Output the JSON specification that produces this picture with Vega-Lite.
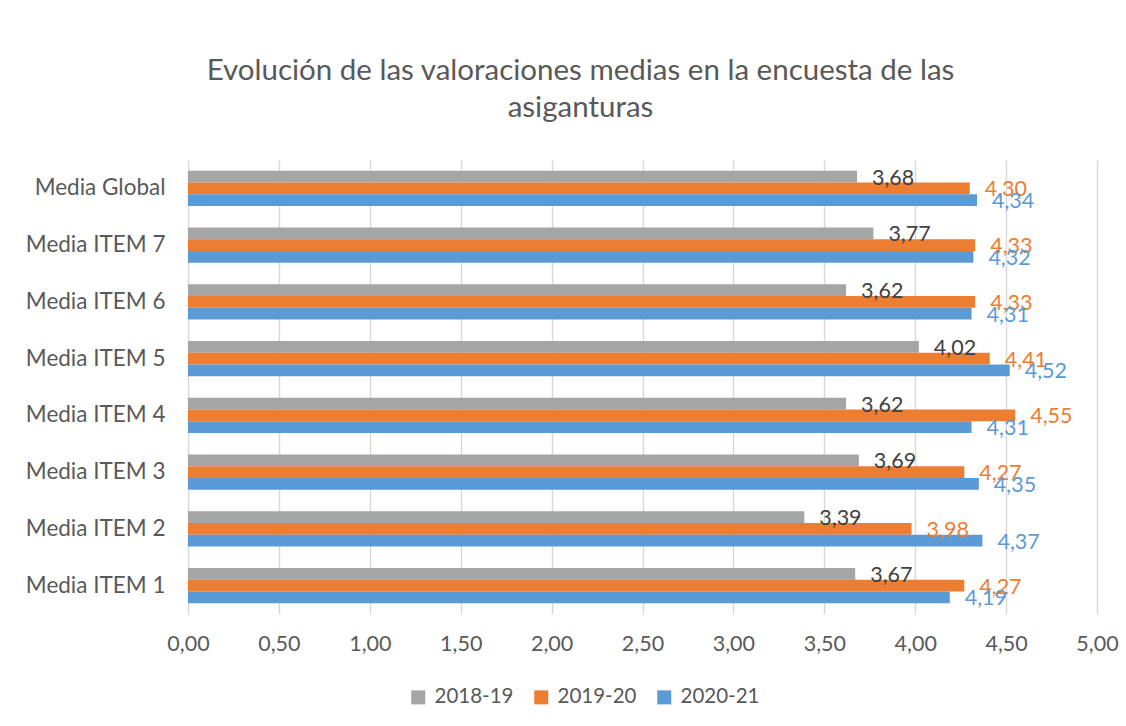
{
  "$schema": "https://vega.github.io/schema/vega-lite/v6.json",
  "width": 909,
  "height": 454,
  "padding": {"left": 18, "top": 55, "right": 10, "bottom": 10},
  "background": "white",
  "title": {
    "text": ["Evolución de las valoraciones medias en la encuesta de las", "asiganturas"],
    "fontSize": 29.5,
    "fontWeight": "normal",
    "color": "#595959",
    "lineHeight": 37,
    "anchor": "middle",
    "dx": -62,
    "offset": 37
  },
  "data": {
    "values": [
      {"item": "Media Global", "serie": "2018-19", "valor": 3.68},
      {"item": "Media Global", "serie": "2019-20", "valor": 4.30},
      {"item": "Media Global", "serie": "2020-21", "valor": 4.34},
      {"item": "Media ITEM 7", "serie": "2018-19", "valor": 3.77},
      {"item": "Media ITEM 7", "serie": "2019-20", "valor": 4.33},
      {"item": "Media ITEM 7", "serie": "2020-21", "valor": 4.32},
      {"item": "Media ITEM 6", "serie": "2018-19", "valor": 3.62},
      {"item": "Media ITEM 6", "serie": "2019-20", "valor": 4.33},
      {"item": "Media ITEM 6", "serie": "2020-21", "valor": 4.31},
      {"item": "Media ITEM 5", "serie": "2018-19", "valor": 4.02},
      {"item": "Media ITEM 5", "serie": "2019-20", "valor": 4.41},
      {"item": "Media ITEM 5", "serie": "2020-21", "valor": 4.52},
      {"item": "Media ITEM 4", "serie": "2018-19", "valor": 3.62},
      {"item": "Media ITEM 4", "serie": "2019-20", "valor": 4.55},
      {"item": "Media ITEM 4", "serie": "2020-21", "valor": 4.31},
      {"item": "Media ITEM 3", "serie": "2018-19", "valor": 3.69},
      {"item": "Media ITEM 3", "serie": "2019-20", "valor": 4.27},
      {"item": "Media ITEM 3", "serie": "2020-21", "valor": 4.35},
      {"item": "Media ITEM 2", "serie": "2018-19", "valor": 3.39},
      {"item": "Media ITEM 2", "serie": "2019-20", "valor": 3.98},
      {"item": "Media ITEM 2", "serie": "2020-21", "valor": 4.37},
      {"item": "Media ITEM 1", "serie": "2018-19", "valor": 3.67},
      {"item": "Media ITEM 1", "serie": "2019-20", "valor": 4.27},
      {"item": "Media ITEM 1", "serie": "2020-21", "valor": 4.19}
    ]
  },
  "encoding": {
    "y": {
      "field": "item",
      "type": "nominal",
      "sort": ["Media Global", "Media ITEM 7", "Media ITEM 6", "Media ITEM 5", "Media ITEM 4", "Media ITEM 3", "Media ITEM 2", "Media ITEM 1"],
      "scale": {"paddingInner": 0.38, "paddingOuter": 0.19},
      "axis": {
        "title": null,
        "domain": false,
        "ticks": false,
        "labelFontSize": 22.5,
        "labelColor": "#595959",
        "labelPadding": 23,
        "minExtent": 170,
        "maxExtent": 170
      }
    },
    "x": {
      "field": "valor",
      "type": "quantitative",
      "scale": {"domain": [0, 5], "nice": false},
      "axis": {
        "title": null,
        "values": [0, 0.5, 1, 1.5, 2, 2.5, 3, 3.5, 4, 4.5, 5],
        "format": ".2f",
        "domain": false,
        "ticks": false,
        "grid": true,
        "gridColor": "#D9D9D9",
        "gridWidth": 1.5,
        "labelFontSize": 21.5,
        "labelColor": "#595959",
        "labelPadding": 19,
        "labelFlush": false
      }
    },
    "yOffset": {
      "field": "serie",
      "type": "nominal",
      "sort": ["2018-19", "2019-20", "2020-21"],
      "scale": {"paddingInner": 0, "paddingOuter": 0}
    }
  },
  "layer": [
    {
      "mark": {"type": "bar"},
      "encoding": {
        "color": {
          "field": "serie",
          "type": "nominal",
          "sort": ["2018-19", "2019-20", "2020-21"],
          "scale": {"domain": ["2018-19", "2019-20", "2020-21"], "range": ["#A5A5A5", "#ED7D31", "#5B9BD5"]},
          "legend": {
            "title": null,
            "orient": "none",
            "direction": "horizontal",
            "legendX": 220,
            "legendY": 527,
            "symbolType": "square",
            "symbolSize": 196,
            "symbolStrokeWidth": 0,
            "labelFontSize": 20.5,
            "labelColor": "#595959",
            "labelOffset": 6,
            "columnPadding": 17,
            "padding": 0
          }
        }
      }
    },
    {
      "mark": {"type": "text", "align": "left", "baseline": "middle", "dx": 15, "dy": 2, "fontSize": 21.5},
      "encoding": {
        "text": {"field": "valor", "type": "quantitative", "format": ".2f"},
        "color": {
          "field": "serie",
          "type": "nominal",
          "scale": {"domain": ["2018-19", "2019-20", "2020-21"], "range": ["#404040", "#ED7D31", "#5B9BD5"]},
          "legend": null
        }
      }
    }
  ],
  "resolve": {"scale": {"color": "independent"}, "legend": {"color": "independent"}},
  "config": {
    "font": "Lato",
    "view": {"stroke": null},
    "locale": {"number": {"decimal": ",", "thousands": ".", "grouping": [3], "currency": ["", " €"]}}
  }
}
